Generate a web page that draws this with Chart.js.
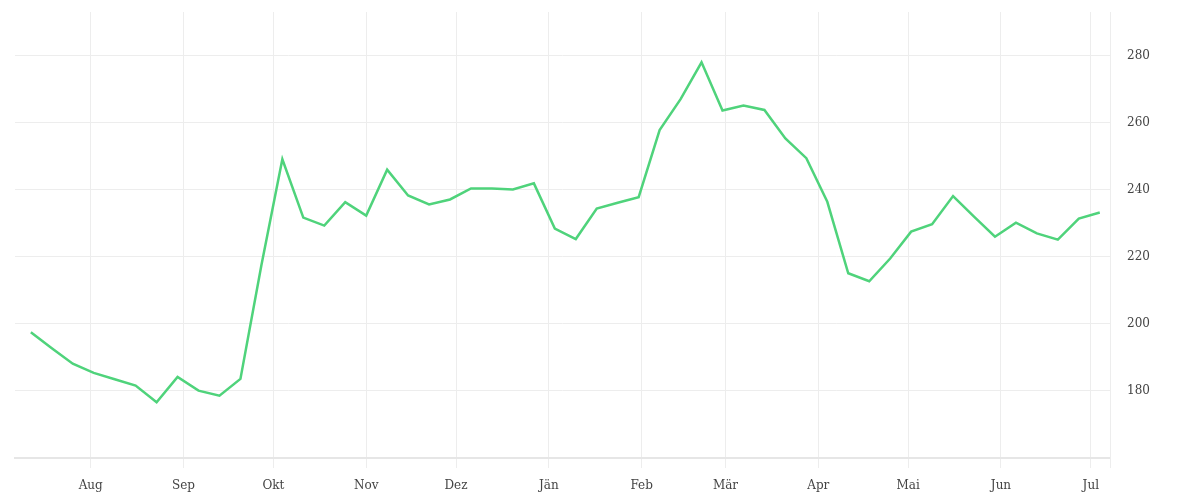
<!DOCTYPE html>
<html>
<head>
<meta charset="utf-8">
<script src="https://cdn.jsdelivr.net/npm/chart.js@4"></script>
<style>
  html, body { margin: 0; padding: 0; background: #ffffff; }
  #wrap { width: 1200px; height: 500px; position: relative; }
</style>
</head>
<body>
<div id="wrap"><canvas id="c"></canvas></div>
<script>
// Week dates (x values)
const weekDates = [
  '2022-07-12','2022-07-19','2022-07-26','2022-08-02','2022-08-09','2022-08-16','2022-08-23','2022-08-30',
  '2022-09-06','2022-09-13','2022-09-20','2022-09-27','2022-10-04','2022-10-11','2022-10-18','2022-10-25',
  '2022-11-01','2022-11-08','2022-11-15','2022-11-22','2022-11-29','2022-12-06','2022-12-13','2022-12-20',
  '2022-12-27','2023-01-03','2023-01-10','2023-01-17','2023-01-24','2023-01-31','2023-02-07','2023-02-14',
  '2023-02-21','2023-02-28','2023-03-07','2023-03-14','2023-03-21','2023-03-28','2023-04-04','2023-04-11',
  '2023-04-18','2023-04-25','2023-05-02','2023-05-09','2023-05-16','2023-05-23','2023-05-30','2023-06-06',
  '2023-06-13','2023-06-20','2023-06-27','2023-07-04'
];
// Series values
const values = [
  197.5, 192.7, 188.1, 185.4, 183.5, 181.6, 176.6, 184.2,
  180.1, 178.6, 183.6, 217.5, 249.1, 231.7, 229.3, 236.3,
  232.3, 246.0, 238.3, 235.6, 237.1, 240.4, 240.4, 240.1,
  241.9, 228.4, 225.3, 234.4, 236.1, 237.8, 257.8, 267.0,
  278.0, 263.6, 265.1, 263.8, 255.3, 249.4, 236.4, 215.1,
  212.7, 219.5, 227.5, 229.7, 238.1, 232.0, 226.0, 230.2,
  227.0, 225.1, 231.4, 233.2
];
// X tick positions and labels
const monthTickDates = ['2022-08-01','2022-09-01','2022-10-01','2022-11-01','2022-12-01','2023-01-01',
                        '2023-02-01','2023-03-01','2023-04-01','2023-05-01','2023-06-01','2023-07-01'];
const monthLabels = ['Aug','Sep','Okt','Nov','Dez','Jän','Feb','Mär','Apr','Mai','Jun','Jul'];
// Y ticks
const yTicks = [180, 200, 220, 240, 260, 280];
const xRangeDates = ['2022-07-06T17:00:00Z', '2023-07-07T10:00:00Z'];
const yRange = [160, 293];

const t = s => Date.parse(s.length === 10 ? s + 'T00:00:00Z' : s);
const points = weekDates.map((d, i) => ({ x: t(d), y: values[i] }));
const xMin = t(xRangeDates[0]), xMax = t(xRangeDates[1]);
const monthTicks = monthTickDates.map(t);

const fontFamily = '"DejaVu Serif", "Liberation Serif", serif';
const gridColor = '#ededed';

new Chart(document.getElementById('c'), {
  type: 'line',
  data: {
    datasets: [{
      data: points,
      borderColor: '#4fd37b',
      borderWidth: 2.5,
      pointRadius: 0,
      pointHoverRadius: 0,
      tension: 0,
      fill: false
    }]
  },
  options: {
    responsive: true,
    maintainAspectRatio: false,
    animation: false,
    layout: { padding: { left: 15, top: 12, right: 0, bottom: 0 } },
    plugins: { legend: { display: false }, tooltip: { enabled: false } },
    scales: {
      x: {
        type: 'linear',
        min: xMin,
        max: xMax,
        afterBuildTicks: (scale) => {
          scale.ticks = monthTicks.map(v => ({ value: v })).concat([{ value: xMax }]);
        },
        afterFit: (scale) => {
          scale.height = 42;
          scale.paddingLeft = 0; scale.paddingRight = 0;
          scale.paddingTop = 0; scale.paddingBottom = 0;
        },
        grid: { color: gridColor, lineWidth: 1, drawTicks: true, tickLength: 10 },
        border: { display: true, color: '#e6e6e6', width: 2 },
        ticks: {
          autoSkip: false,
          maxRotation: 0,
          padding: 11,
          color: '#444',
          font: { family: fontFamily, size: 12 },
          callback: (v) => {
            const i = monthTicks.indexOf(v);
            return i >= 0 ? monthLabels[i] : '';
          }
        }
      },
      y: {
        position: 'right',
        min: yRange[0],
        max: yRange[1],
        afterBuildTicks: (scale) => {
          scale.ticks = yTicks.map(v => ({ value: v }));
        },
        afterFit: (scale) => {
          scale.width = 90;
          scale.paddingTop = 0; scale.paddingBottom = 0;
          scale.paddingLeft = 0; scale.paddingRight = 0;
        },
        grid: { color: gridColor, lineWidth: 1, drawTicks: false },
        border: { display: true, color: gridColor, width: 1 },
        ticks: {
          padding: 17,
          color: '#444',
          font: { family: fontFamily, size: 12 }
        }
      }
    }
  }
});
</script>
</body>
</html>
